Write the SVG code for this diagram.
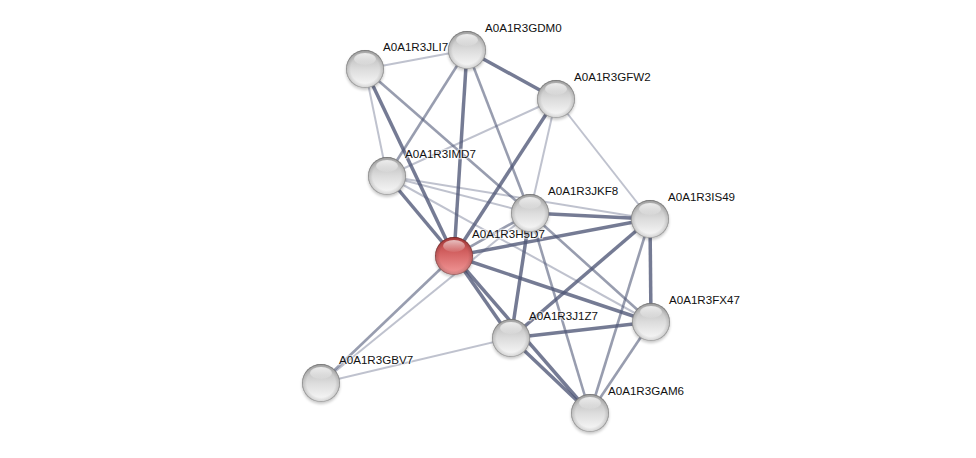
<svg xmlns="http://www.w3.org/2000/svg" width="976" height="458" viewBox="0 0 976 458">
<defs>
<linearGradient id="g" x1="0" y1="0" x2="0" y2="1">
<stop offset="0" stop-color="#b4b4b4"/>
<stop offset="0.5" stop-color="#dcdcdc"/>
<stop offset="1" stop-color="#fafafa"/>
</linearGradient>
<linearGradient id="r" x1="0" y1="0" x2="0" y2="1">
<stop offset="0" stop-color="#b83c3c"/>
<stop offset="0.5" stop-color="#d86a6a"/>
<stop offset="1" stop-color="#f29a9a"/>
</linearGradient>
<radialGradient id="rim" cx="0.5" cy="0.5" r="0.5">
<stop offset="0.75" stop-color="#000" stop-opacity="0"/>
<stop offset="0.93" stop-color="#000" stop-opacity="0.12"/>
<stop offset="1" stop-color="#000" stop-opacity="0.45"/>
</radialGradient>
<linearGradient id="hl" x1="0" y1="0" x2="0" y2="1">
<stop offset="0" stop-color="#ffffff" stop-opacity="0.95"/>
<stop offset="1" stop-color="#ffffff" stop-opacity="0.1"/>
</linearGradient>
<filter id="sh" x="-30%" y="-30%" width="160%" height="160%">
<feGaussianBlur stdDeviation="1.5"/>
</filter>
<g id="ball">
<circle cx="0" cy="2" r="19" fill="#000" opacity="0.22" filter="url(#sh)"/>
<circle r="19" fill="url(#g)"/>
<circle r="19" fill="url(#rim)"/>
<ellipse cx="0" cy="-10" rx="11" ry="6" fill="url(#hl)" opacity="0.8"/>
</g>
<g id="rball">
<circle cx="0" cy="2" r="19" fill="#000" opacity="0.22" filter="url(#sh)"/>
<circle r="19" fill="url(#r)"/>
<circle r="19" fill="url(#rim)"/>
<ellipse cx="0" cy="-10" rx="11" ry="6" fill="url(#hl)" opacity="0.7"/>
</g>
</defs>
<style>
.e{stroke:#4e5676;fill:none;stroke-linecap:butt}
.t{stroke-width:3.5;stroke-opacity:0.78}
.m{stroke-width:2.6;stroke-opacity:0.58}
.l{stroke-width:2;stroke-opacity:0.36}
text{font-family:"Liberation Sans",Arial,sans-serif;font-size:11.6px;fill:#111;stroke:#fff;stroke-width:2.5;stroke-opacity:0.55;paint-order:stroke}
</style>
<rect width="976" height="458" fill="#fff"/>
<g id="edges">
<line class="e l" x1="365" y1="69" x2="467" y2="50"/>
<line class="e l" x1="365" y1="69" x2="387" y2="176"/>
<line class="e t" x1="365" y1="69" x2="454" y2="256"/>
<line class="e m" x1="365" y1="69" x2="530" y2="213"/>
<line class="e t" x1="467" y1="50" x2="556" y2="99"/>
<line class="e m" x1="467" y1="50" x2="387" y2="176"/>
<line class="e t" x1="467" y1="50" x2="454" y2="256"/>
<line class="e m" x1="467" y1="50" x2="530" y2="213"/>
<line class="e l" x1="556" y1="99" x2="387" y2="176"/>
<line class="e t" x1="556" y1="99" x2="454" y2="256"/>
<line class="e l" x1="556" y1="99" x2="530" y2="213"/>
<line class="e l" x1="556" y1="99" x2="650" y2="219"/>
<line class="e t" x1="387" y1="176" x2="454" y2="256"/>
<line class="e l" x1="387" y1="176" x2="530" y2="213"/>
<line class="e l" x1="387" y1="176" x2="650" y2="219"/>
<line class="e l" x1="387" y1="176" x2="651" y2="322"/>
<line class="e m" x1="454" y1="256" x2="530" y2="213"/>
<line class="e t" x1="454" y1="256" x2="650" y2="219"/>
<line class="e t" x1="454" y1="256" x2="651" y2="322"/>
<line class="e t" x1="454" y1="256" x2="511" y2="338"/>
<line class="e t" x1="454" y1="256" x2="590" y2="413"/>
<line class="e m" x1="454" y1="256" x2="321" y2="383"/>
<line class="e l" x1="321" y1="383" x2="530" y2="213"/>
<line class="e l" x1="321" y1="383" x2="511" y2="338"/>
<line class="e t" x1="530" y1="213" x2="650" y2="219"/>
<line class="e t" x1="530" y1="213" x2="511" y2="338"/>
<line class="e m" x1="530" y1="213" x2="651" y2="322"/>
<line class="e m" x1="530" y1="213" x2="590" y2="413"/>
<line class="e t" x1="650" y1="219" x2="651" y2="322"/>
<line class="e t" x1="650" y1="219" x2="511" y2="338"/>
<line class="e m" x1="650" y1="219" x2="590" y2="413"/>
<line class="e t" x1="651" y1="322" x2="511" y2="338"/>
<line class="e m" x1="651" y1="322" x2="590" y2="413"/>
<line class="e t" x1="511" y1="338" x2="590" y2="413"/>
</g>
<g id="labels">
<text x="383" y="51">A0A1R3JLI7</text>
<text x="485" y="32">A0A1R3GDM0</text>
<text x="574" y="81">A0A1R3GFW2</text>
<text x="405" y="158">A0A1R3IMD7</text>
<text x="548" y="195">A0A1R3JKF8</text>
<text x="668" y="201">A0A1R3IS49</text>
<text x="472" y="238">A0A1R3H5D7</text>
<text x="669" y="304">A0A1R3FX47</text>
<text x="529" y="320">A0A1R3J1Z7</text>
<text x="339" y="364">A0A1R3GBV7</text>
<text x="608" y="395">A0A1R3GAM6</text>
</g>
<g id="n-JLI7"><use href="#ball" x="365" y="69"/></g>
<g id="n-GDM0"><use href="#ball" x="467" y="50"/></g>
<g id="n-GFW2"><use href="#ball" x="556" y="99"/></g>
<g id="n-IMD7"><use href="#ball" x="387" y="176"/></g>
<g id="n-JKF8"><use href="#ball" x="530" y="213"/></g>
<g id="n-IS49"><use href="#ball" x="650" y="219"/></g>
<g id="n-H5D7"><use href="#rball" x="454" y="256"/></g>
<g id="n-FX47"><use href="#ball" x="651" y="322"/></g>
<g id="n-J1Z7"><use href="#ball" x="511" y="338"/></g>
<g id="n-GBV7"><use href="#ball" x="321" y="383"/></g>
<g id="n-GAM6"><use href="#ball" x="590" y="413"/></g>
</svg>
